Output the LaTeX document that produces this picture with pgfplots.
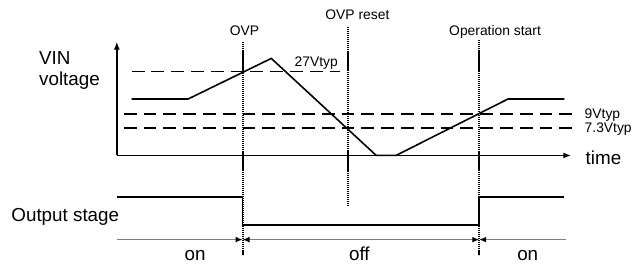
\documentclass[border=0pt]{standalone}
\usepackage{fontspec}
\setmainfont{Liberation Sans}
\usepackage{pgfplots}
\pgfplotsset{compat=1.18}
\usetikzlibrary{arrows.meta}
\newcommand\bigf{\fontsize{19}{21}\selectfont}
\newcommand\smf{\fontsize{14}{16}\selectfont}
\begin{document}
\begin{tikzpicture}
\begin{axis}[
 width=635pt, height=269pt, scale only axis,
 xmin=0, xmax=635, ymin=0, ymax=269, y dir=reverse,
 hide axis, clip=false,
 every node/.style={inner sep=0pt},
]
\addplot[draw=none] coordinates {(0,0) (635,269)};
% axes
\addplot[line width=1.6pt, -{Latex[length=8pt,width=6pt]}] coordinates {(118,157) (118,42)};
\addplot[line width=1.6pt, -{Latex[length=8pt,width=6pt]}] coordinates {(118,157) (577,157)};
% dashed thresholds
\addplot[line width=1.6pt, dash pattern=on 13pt off 7pt] coordinates {(133,72) (343,72)};
\addplot[line width=1.6pt, dash pattern=on 13pt off 7pt] coordinates {(125,115) (583,115)};
\addplot[line width=1.6pt, dash pattern=on 13pt off 7pt] coordinates {(125,129) (583,129)};
% VIN signal
\addplot[line width=1.6pt] coordinates {(133,100) (190,100) (274,59) (380,157) (400,157) (513,100) (570,100)};
% output stage
\addplot[line width=1.6pt] coordinates {(118,199) (245,199) (245,227) (484,227) (484,199) (570,199)};
% dotted event lines
\addplot[line width=2pt, dash pattern=on 1.2pt off 0.8pt] coordinates {(245,42) (245,258)};
\addplot[line width=2pt, dash pattern=on 1.2pt off 0.8pt] coordinates {(351,27) (351,208)};
\addplot[line width=2pt, dash pattern=on 1.2pt off 0.8pt] coordinates {(484,40) (484,258)};
% gray state line with arrows
\addplot[line width=1.6pt, gray, -{Latex[length=7pt,width=6pt,color=black]}] coordinates {(118,242) (245,242)};
\addplot[line width=1.6pt, gray, {Latex[length=7pt,width=6pt,color=black]}-{Latex[length=7pt,width=6pt,color=black]}] coordinates {(245,242) (484,242)};
\addplot[line width=1.6pt, gray, {Latex[length=7pt,width=6pt,color=black]}-] coordinates {(484,242) (572,242)};
% labels
\node[anchor=base] at (axis cs:247,36) {\smf OVP};
\node[anchor=base] at (axis cs:361,20) {\smf OVP reset};
\node[anchor=base] at (axis cs:500,36) {\smf Operation start};
\node[anchor=base west] at (axis cs:294,67) {\smf 27Vtyp};
\node[anchor=base west] at (axis cs:587,120) {\smf 9Vtyp};
\node[anchor=base west] at (axis cs:587,134) {\smf 7.3Vtyp};
\node[anchor=base west] at (axis cs:588,166) {\bigf time};
\node[anchor=base west] at (axis cs:36,65) {\bigf VIN};
\node[anchor=base west] at (axis cs:36,86) {\bigf voltage};
\node[anchor=base west] at (axis cs:8,224) {\bigf Output stage};
\node[anchor=base] at (axis cs:197,263) {\bigf on};
\node[anchor=base] at (axis cs:363,263) {\bigf off};
\node[anchor=base] at (axis cs:533,263) {\bigf on};
\end{axis}
\end{tikzpicture}
\end{document}
